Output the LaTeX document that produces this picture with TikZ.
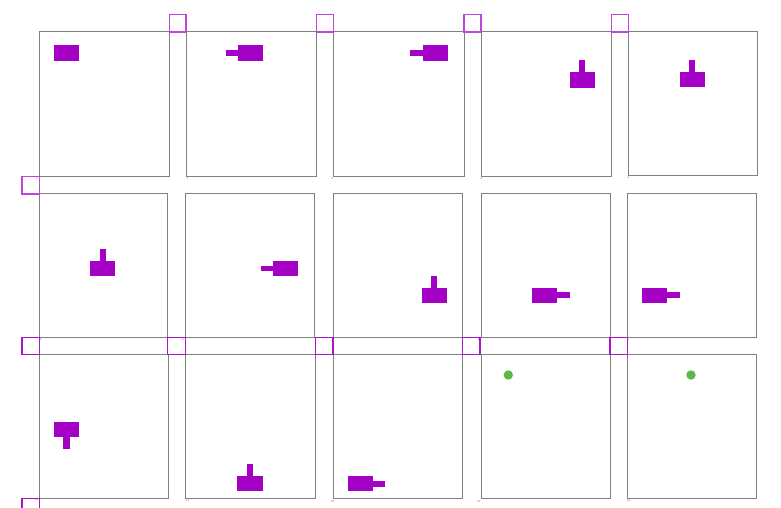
\documentclass[tikz,border=0pt]{standalone}
\definecolor{pc}{RGB}{165,0,197}
\definecolor{mk}{RGB}{190,70,222}
\definecolor{mkd}{RGB}{170,20,205}
\definecolor{gn}{RGB}{93,184,69}
\definecolor{frame}{RGB}{128,128,128}
\begin{document}
\begin{tikzpicture}[x=1pt,y=-1pt,
  panel/.style={draw=frame, line width=0.8pt},
  marker/.style={draw=mk, line width=1.2pt},
  markerdark/.style={draw=mkd, line width=1.4pt},
  piece/.style={fill=pc},
  dot/.style={fill=gn},
  lbl/.style={font=\fontsize{2.5}{3}\selectfont, inner sep=0pt, text=black!80}]
\useasboundingbox (0,0) rectangle (781,507);
% row 1 panels
\draw[panel] (39.3,31.7) rectangle (169.3,176);
\draw[panel] (186,31.7) rectangle (316.7,176);
\draw[panel] (333.3,31.7) rectangle (464,176);
\draw[panel] (481,31.7) rectangle (611.3,176);
\draw[panel] (628.3,31.7) rectangle (757.3,175);
% row 2 panels
\draw[panel] (39.3,193.3) rectangle (167.3,337.3);
\draw[panel] (185.3,193.3) rectangle (314,337.3);
\draw[panel] (333.3,193.3) rectangle (462.7,337.3);
\draw[panel] (481,193.3) rectangle (610,337.3);
\draw[panel] (627.3,193.3) rectangle (756,337.3);
% row 3 panels
\draw[panel] (39.3,354.3) rectangle (168.3,498.3);
\draw[panel] (185.7,354.3) rectangle (315.7,498.3);
\draw[panel] (333.3,354.3) rectangle (462.7,498.3);
\draw[panel] (481,354.3) rectangle (610,498.3);
\draw[panel] (627.7,354.3) rectangle (756.3,498.3);
% markers
\draw[marker] (169.3,14.3) rectangle (186,32);
\draw[marker] (316.7,14.3) rectangle (333.7,32);
\draw[marker] (464,14.3) rectangle (481,32);
\draw[marker] (611.3,14.3) rectangle (628.3,32);
\draw[marker] (22,176.5) rectangle (39.3,194);
\draw[markerdark] (22,337.3) rectangle (39.3,354.3);
\draw[markerdark] (167.5,337.3) rectangle (185.3,354.3);
\draw[markerdark] (315.3,337.3) rectangle (333,354.3);
\draw[markerdark] (462.7,337.3) rectangle (480,354.3);
\draw[markerdark] (610,337.3) rectangle (627.3,354.3);
\draw[markerdark] (22,498.3) rectangle (39.3,512);
% tiny frame labels
\node[lbl] (l0) at (36.7,179) {0};
\node[lbl] (l1) at (187.7,179) {1};
\node[lbl] (l2) at (332,179) {2};
\node[lbl] (l3) at (481,179) {3};
\node[lbl] (l4) at (628.3,178) {4};
\node[lbl] (l5) at (40.7,339.3) {5};
\node[lbl] (l6) at (183.3,339.3) {6};
\node[lbl] (l7) at (333.3,339.3) {7};
\node[lbl] (l8) at (479,339.3) {8};
\node[lbl] (l9) at (627.7,340) {9};
\node[lbl] (l10) at (36.7,500) {10};
\node[lbl] (l11) at (187.7,501) {11};
\node[lbl] (l12) at (332.3,501.7) {12};
\node[lbl] (l13) at (478.3,501.7) {13};
\node[lbl] (l14) at (628.3,501) {14};
% panel 1
\fill[piece] (54,45) rectangle (79.3,60.7);
% panel 2
\fill[piece] (238,45) rectangle (263.3,60.7);
\fill[piece] (226,50) rectangle (238,55.7);
% panel 3
\fill[piece] (423,45) rectangle (448,60.7);
\fill[piece] (410,50) rectangle (423,55.7);
% panel 4
\fill[piece] (579,60) rectangle (585.3,72);
\fill[piece] (569.7,72) rectangle (595,88);
% panel 5
\fill[piece] (689,60) rectangle (695.3,72);
\fill[piece] (679.7,72) rectangle (705,87.3);
% panel 6
\fill[piece] (100,248.7) rectangle (106.3,260.7);
\fill[piece] (90,260.7) rectangle (115.3,276);
% panel 7
\fill[piece] (273,261) rectangle (298,276);
\fill[piece] (261,265.7) rectangle (273,271.3);
% panel 8
\fill[piece] (431,275.7) rectangle (436.7,287.7);
\fill[piece] (421.7,287.7) rectangle (447,302.7);
% panel 9
\fill[piece] (532,288) rectangle (557,302.7);
\fill[piece] (557,292.3) rectangle (570,298);
% panel 10
\fill[piece] (642,288) rectangle (667,302.7);
\fill[piece] (667,292.3) rectangle (679.7,298);
% panel 11
\fill[piece] (54,421.7) rectangle (79.3,436.7);
\fill[piece] (63.3,436.7) rectangle (70,449.3);
% panel 12
\fill[piece] (247,463.7) rectangle (253.3,476);
\fill[piece] (237.3,476) rectangle (262.7,491.3);
% panel 13
\fill[piece] (348.3,476) rectangle (372.7,491.3);
\fill[piece] (372.7,480.7) rectangle (385.3,486.7);
% panels 14, 15
\fill[dot] (508.3,375) circle (4.7);
\fill[dot] (691,375) circle (4.7);
\end{tikzpicture}
\end{document}
